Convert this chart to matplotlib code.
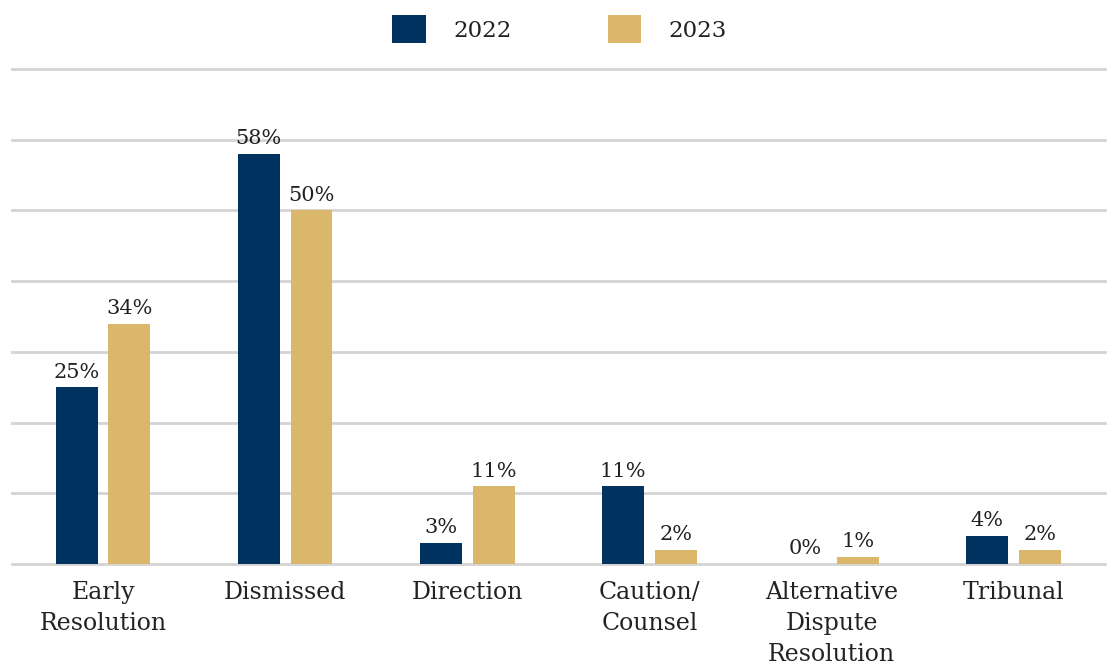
import numpy as np
import matplotlib.pyplot as plt

# categorias e valores (%)
categories = ['Early\nResolution', 'Dismissed', 'Direction', 'Caution/\nCounsel',
              'Alternative\nDispute\nResolution', 'Tribunal']
vals_2022 = [25, 58, 3, 11, 0, 4]
vals_2023 = [34, 50, 11, 2, 1, 2]

navy = '#00335f'
gold = '#dbb76c'

plt.rcParams['font.family'] = 'DejaVu Serif'

fig = plt.figure(figsize=(11.08, 6.64), dpi=100)
ax = fig.add_axes([0.0108, 0.1506, 0.9862, 0.7455])

x = np.arange(len(categories))
w = 0.23
off = 0.145
b1 = ax.bar(x - off, vals_2022, w, color=navy, label='2022', zorder=3)
b2 = ax.bar(x + off, vals_2023, w, color=gold, label='2023', zorder=3)

for bars, vals in [(b1, vals_2022), (b2, vals_2023)]:
    for rect, v in zip(bars, vals):
        ax.annotate(f'{v}%', (rect.get_x() + rect.get_width() / 2, v),
                    xytext=(0, 4), textcoords='offset points',
                    ha='center', va='bottom', fontsize=15, color='#222222')

ax.set_xlim(-0.5, len(categories) - 0.5)
ax.set_ylim(0, 70)
ax.set_yticks(np.arange(0, 71, 10))
ax.yaxis.grid(True, color='#d4d4d4', linewidth=2)
for gl in ax.get_ygridlines():
    gl.set_clip_on(False)
ax.set_axisbelow(True)
ax.tick_params(axis='y', left=False, labelleft=False)
ax.tick_params(axis='x', length=0, pad=12, labelsize=17, labelcolor='#222222')
ax.set_xticks(x)
ax.set_xticklabels(categories, linespacing=1.44)
for s in ax.spines.values():
    s.set_visible(False)

fig.legend(handles=[b1, b2], labels=['2022', '2023'], loc='center',
           bbox_to_anchor=(0.505, 0.956), ncol=2, frameon=False, fontsize=16.5,
           handlelength=1.45, handleheight=1.5, handletextpad=1.2,
           columnspacing=4.2, labelcolor='#222222')

fig.savefig('out.png', dpi=100)
